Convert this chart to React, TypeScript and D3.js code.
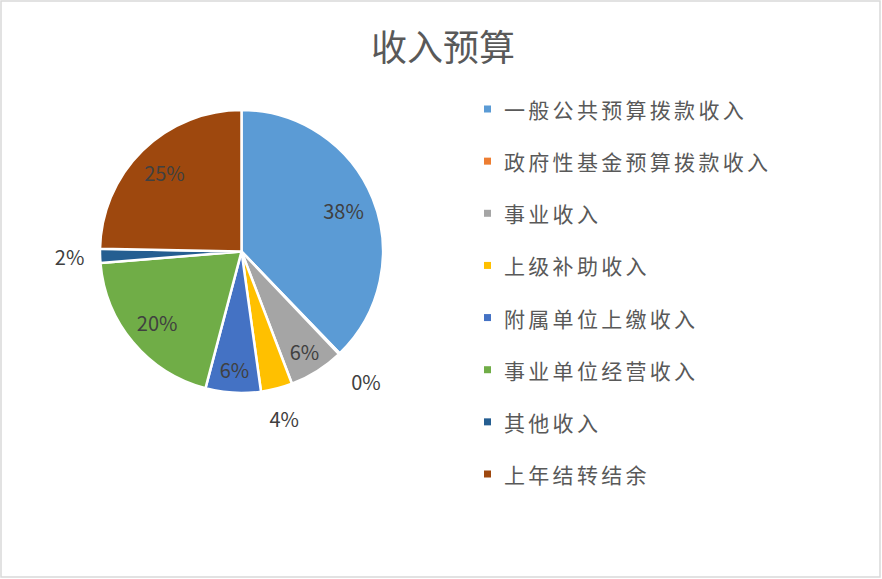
import React, { FC, useMemo } from 'react'
import * as d3 from 'd3'

const categories = [
	'一般公共预算拨款收入',
	'政府性基金预算拨款收入',
	'事业收入',
	'上级补助收入',
	'附属单位上缴收入',
	'事业单位经营收入',
	'其他收入',
	'上年结转结余'
]
// 占比（%）
const shares = [37.8, 0.1, 6.3, 3.6, 6.3, 19.6, 1.6, 24.7]
const colors = ['#5B9BD5', '#ED7D31', '#A5A5A5', '#FFC000', '#4472C4', '#70AD47', '#255E91', '#9E480E']
const title = '收入预算'

const W = 882
const H = 579
const cx = 241.5
const cy = 251.5
const R = 141.5
const font = '"Noto Sans CJK SC", "Noto Sans", sans-serif'

const App: FC = () => {
	const arcs = useMemo(() => {
		return d3
			.pie<number>()
			.sort(null)
			.value(d => d)(shares)
	}, [])

	const arcGen = useMemo(() => d3.arc<d3.PieArcDatum<number>>().innerRadius(0).outerRadius(R), [])

	const labels = useMemo(() => {
		const total = d3.sum(shares)
		return arcs.map(a => {
			const mid = (a.startAngle + a.endAngle) / 2
			const pct = (a.value / total) * 100
			// 小扇区标签放在外侧
			const r = pct >= 5 ? (pct < 8 ? 118 : 110) : pct < 1 ? 180 : 172
			return {
				text: Math.round(pct) + '%',
				x: cx + r * Math.sin(mid),
				y: cy - r * Math.cos(mid)
			}
		})
	}, [arcs])

	const legendY = d3
		.scalePoint<string>()
		.domain(categories)
		.range([109, 474])

	return (
		<div style={{ position: 'absolute', left: 0, top: 0 }}>
			<svg width={W} height={H} style={{ display: 'block', background: '#fff' }}>
				<rect x={1} y={1} width={879} height={576} fill="#fff" stroke="#d9d9d9" strokeWidth={1.5} />
				<text
					x={443}
					y={45}
					textAnchor="middle"
					dominantBaseline="central"
					fontFamily={font}
					fontSize={36}
					fill="#595959"
				>
					{title}
				</text>

				{/* 主图 */}
				<g transform={`translate(${cx}, ${cy})`}>
					{arcs.map((a, i) => (
						<path key={i} d={arcGen(a) || ''} fill={colors[i]} stroke="#fff" strokeWidth={2.5} strokeLinejoin="round" />
					))}
				</g>
				<g>
					{labels.map((l, i) => (
						<text
							key={i}
							x={l.x}
							y={l.y}
							textAnchor="middle"
							dominantBaseline="central"
							fontFamily={font}
							fontSize={20}
							fill="#404040"
						>
							{l.text}
						</text>
					))}
				</g>

				{/* 图例 */}
				<g>
					{categories.map((c, i) => (
						<g key={c} transform={`translate(484, ${legendY(c)})`}>
							<rect x={0} y={-3.5} width={7} height={7} fill={colors[i]} />
							<text
								x={20}
								y={0}
								dominantBaseline="central"
								fontFamily={font}
								fontSize={21}
								letterSpacing={3.3}
								fill="#595959"
							>
								{c}
							</text>
						</g>
					))}
				</g>
			</svg>
		</div>
	)
}

export default App
